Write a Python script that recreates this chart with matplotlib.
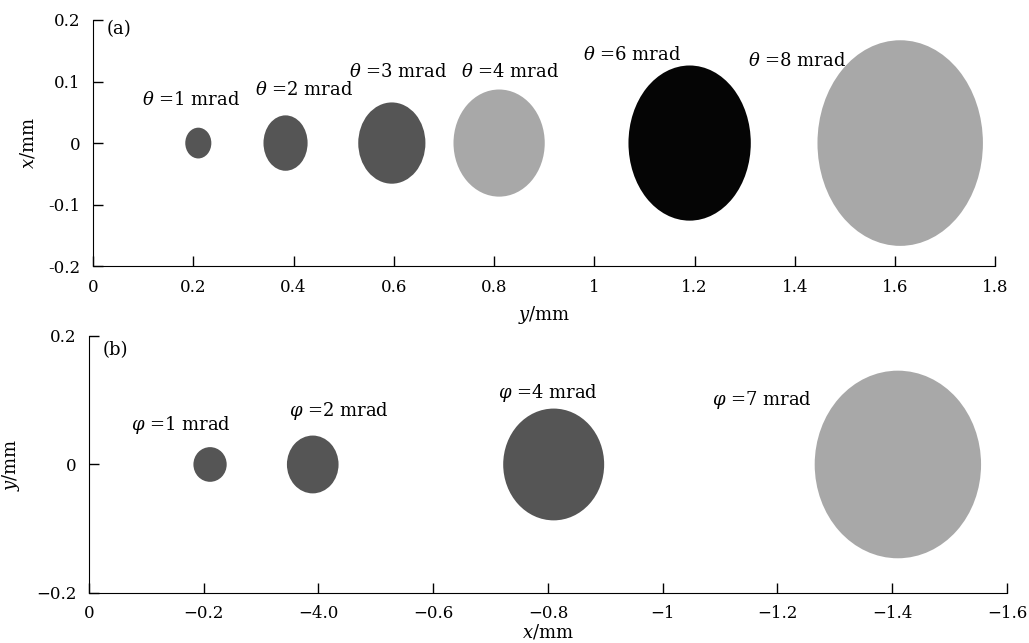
import matplotlib.pyplot as plt
from matplotlib.patches import Ellipse

plt.rcParams['font.family'] = ['DejaVu Serif']
plt.rcParams['mathtext.fontset'] = 'dejavuserif'

# Panel (a): spot centres (y/mm), half widths, half heights, grey level
a_labels = [r'$\theta$ =1 mrad', r'$\theta$ =2 mrad', r'$\theta$ =3 mrad',
            r'$\theta$ =4 mrad', r'$\theta$ =6 mrad', r'$\theta$ =8 mrad']
a_cx = [0.21, 0.384, 0.596, 0.81, 1.19, 1.61]
a_rx = [0.026, 0.044, 0.067, 0.091, 0.122, 0.165]
a_ry = [0.025, 0.045, 0.066, 0.087, 0.126, 0.167]
a_col = ['#555555', '#555555', '#555555', '#a8a8a8', '#050505', '#a8a8a8']
a_lx = [0.098, 0.324, 0.51, 0.734, 0.978, 1.306]
a_ly = [0.07, 0.086, 0.115, 0.115, 0.143, 0.133]
a_ticks = [0, 0.2, 0.4, 0.6, 0.8, 1, 1.2, 1.4, 1.6, 1.8]
a_ticklabels = ['0', '0.2', '0.4', '0.6', '0.8', '1', '1.2', '1.4', '1.6', '1.8']

# Panel (b)
b_labels = [r'$\varphi$ =1 mrad', r'$\varphi$ =2 mrad', r'$\varphi$ =4 mrad', r'$\varphi$ =7 mrad']
b_cx = [-0.211, -0.39, -0.81, -1.41]
b_rx = [0.029, 0.045, 0.088, 0.145]
b_ry = [0.027, 0.045, 0.087, 0.146]
b_col = ['#555555', '#555555', '#555555', '#a8a8a8']
b_lx = [-0.073, -0.348, -0.713, -1.086]
b_ly = [0.061, 0.083, 0.111, 0.101]
b_ticks = [0, -0.2, -0.4, -0.6, -0.8, -1, -1.2, -1.4, -1.6]
b_ticklabels = ['0', '\u22120.2', '\u22124.0', '\u22120.6', '\u22120.8', '\u22121',
                '\u22121.2', '\u22121.4', '\u22121.6']

fs = 13
tfs = 12

fig = plt.figure(figsize=(10.29, 6.43), dpi=100)
ax1 = fig.add_axes([0.0904, 0.586, 0.877, 0.383])
ax2 = fig.add_axes([0.0865, 0.0778, 0.892, 0.3997])


def style(ax):
    ax.spines['top'].set_visible(False)
    ax.spines['right'].set_visible(False)
    ax.tick_params(direction='in', labelsize=tfs, width=1, length=7, pad=9)


# (a)
for cx, rx, ry, col in zip(a_cx, a_rx, a_ry, a_col):
    ax1.add_patch(Ellipse((cx, 0), 2 * rx, 2 * ry, facecolor=col, edgecolor='none'))
for lx, ly, lab in zip(a_lx, a_ly, a_labels):
    ax1.text(lx, ly, lab, fontsize=fs, ha='left', va='center')
ax1.text(0.028, 0.185, '(a)', fontsize=fs, ha='left', va='center')
ax1.set_xlim(0, 1.8)
ax1.set_ylim(-0.2, 0.2)
ax1.set_xticks(a_ticks)
ax1.set_xticklabels(a_ticklabels)
ax1.set_yticks([-0.2, -0.1, 0, 0.1, 0.2])
ax1.set_yticklabels(['-0.2', '-0.1', '0', '0.1', '0.2'])
ax1.set_xlabel(r'$y$/mm', fontsize=fs, labelpad=6)
ax1.set_ylabel(r'$x$/mm', fontsize=fs, labelpad=8)
style(ax1)

# (b)
for cx, rx, ry, col in zip(b_cx, b_rx, b_ry, b_col):
    ax2.add_patch(Ellipse((cx, 0), 2 * rx, 2 * ry, facecolor=col, edgecolor='none'))
for lx, ly, lab in zip(b_lx, b_ly, b_labels):
    ax2.text(lx, ly, lab, fontsize=fs, ha='left', va='center')
ax2.text(-0.024, 0.178, '(b)', fontsize=fs, ha='left', va='center')
ax2.set_xlim(0, -1.6)
ax2.set_ylim(-0.2, 0.2)
ax2.set_xticks(b_ticks)
ax2.set_xticklabels(b_ticklabels)
ax2.set_yticks([-0.2, 0, 0.2])
ax2.set_yticklabels(['\u22120.2', '0', '0.2'])
ax2.set_xlabel(r'$x$/mm', fontsize=fs, labelpad=0)
ax2.set_ylabel(r'$y$/mm', fontsize=fs, labelpad=10)
style(ax2)

fig.savefig('out.png', dpi=100)
